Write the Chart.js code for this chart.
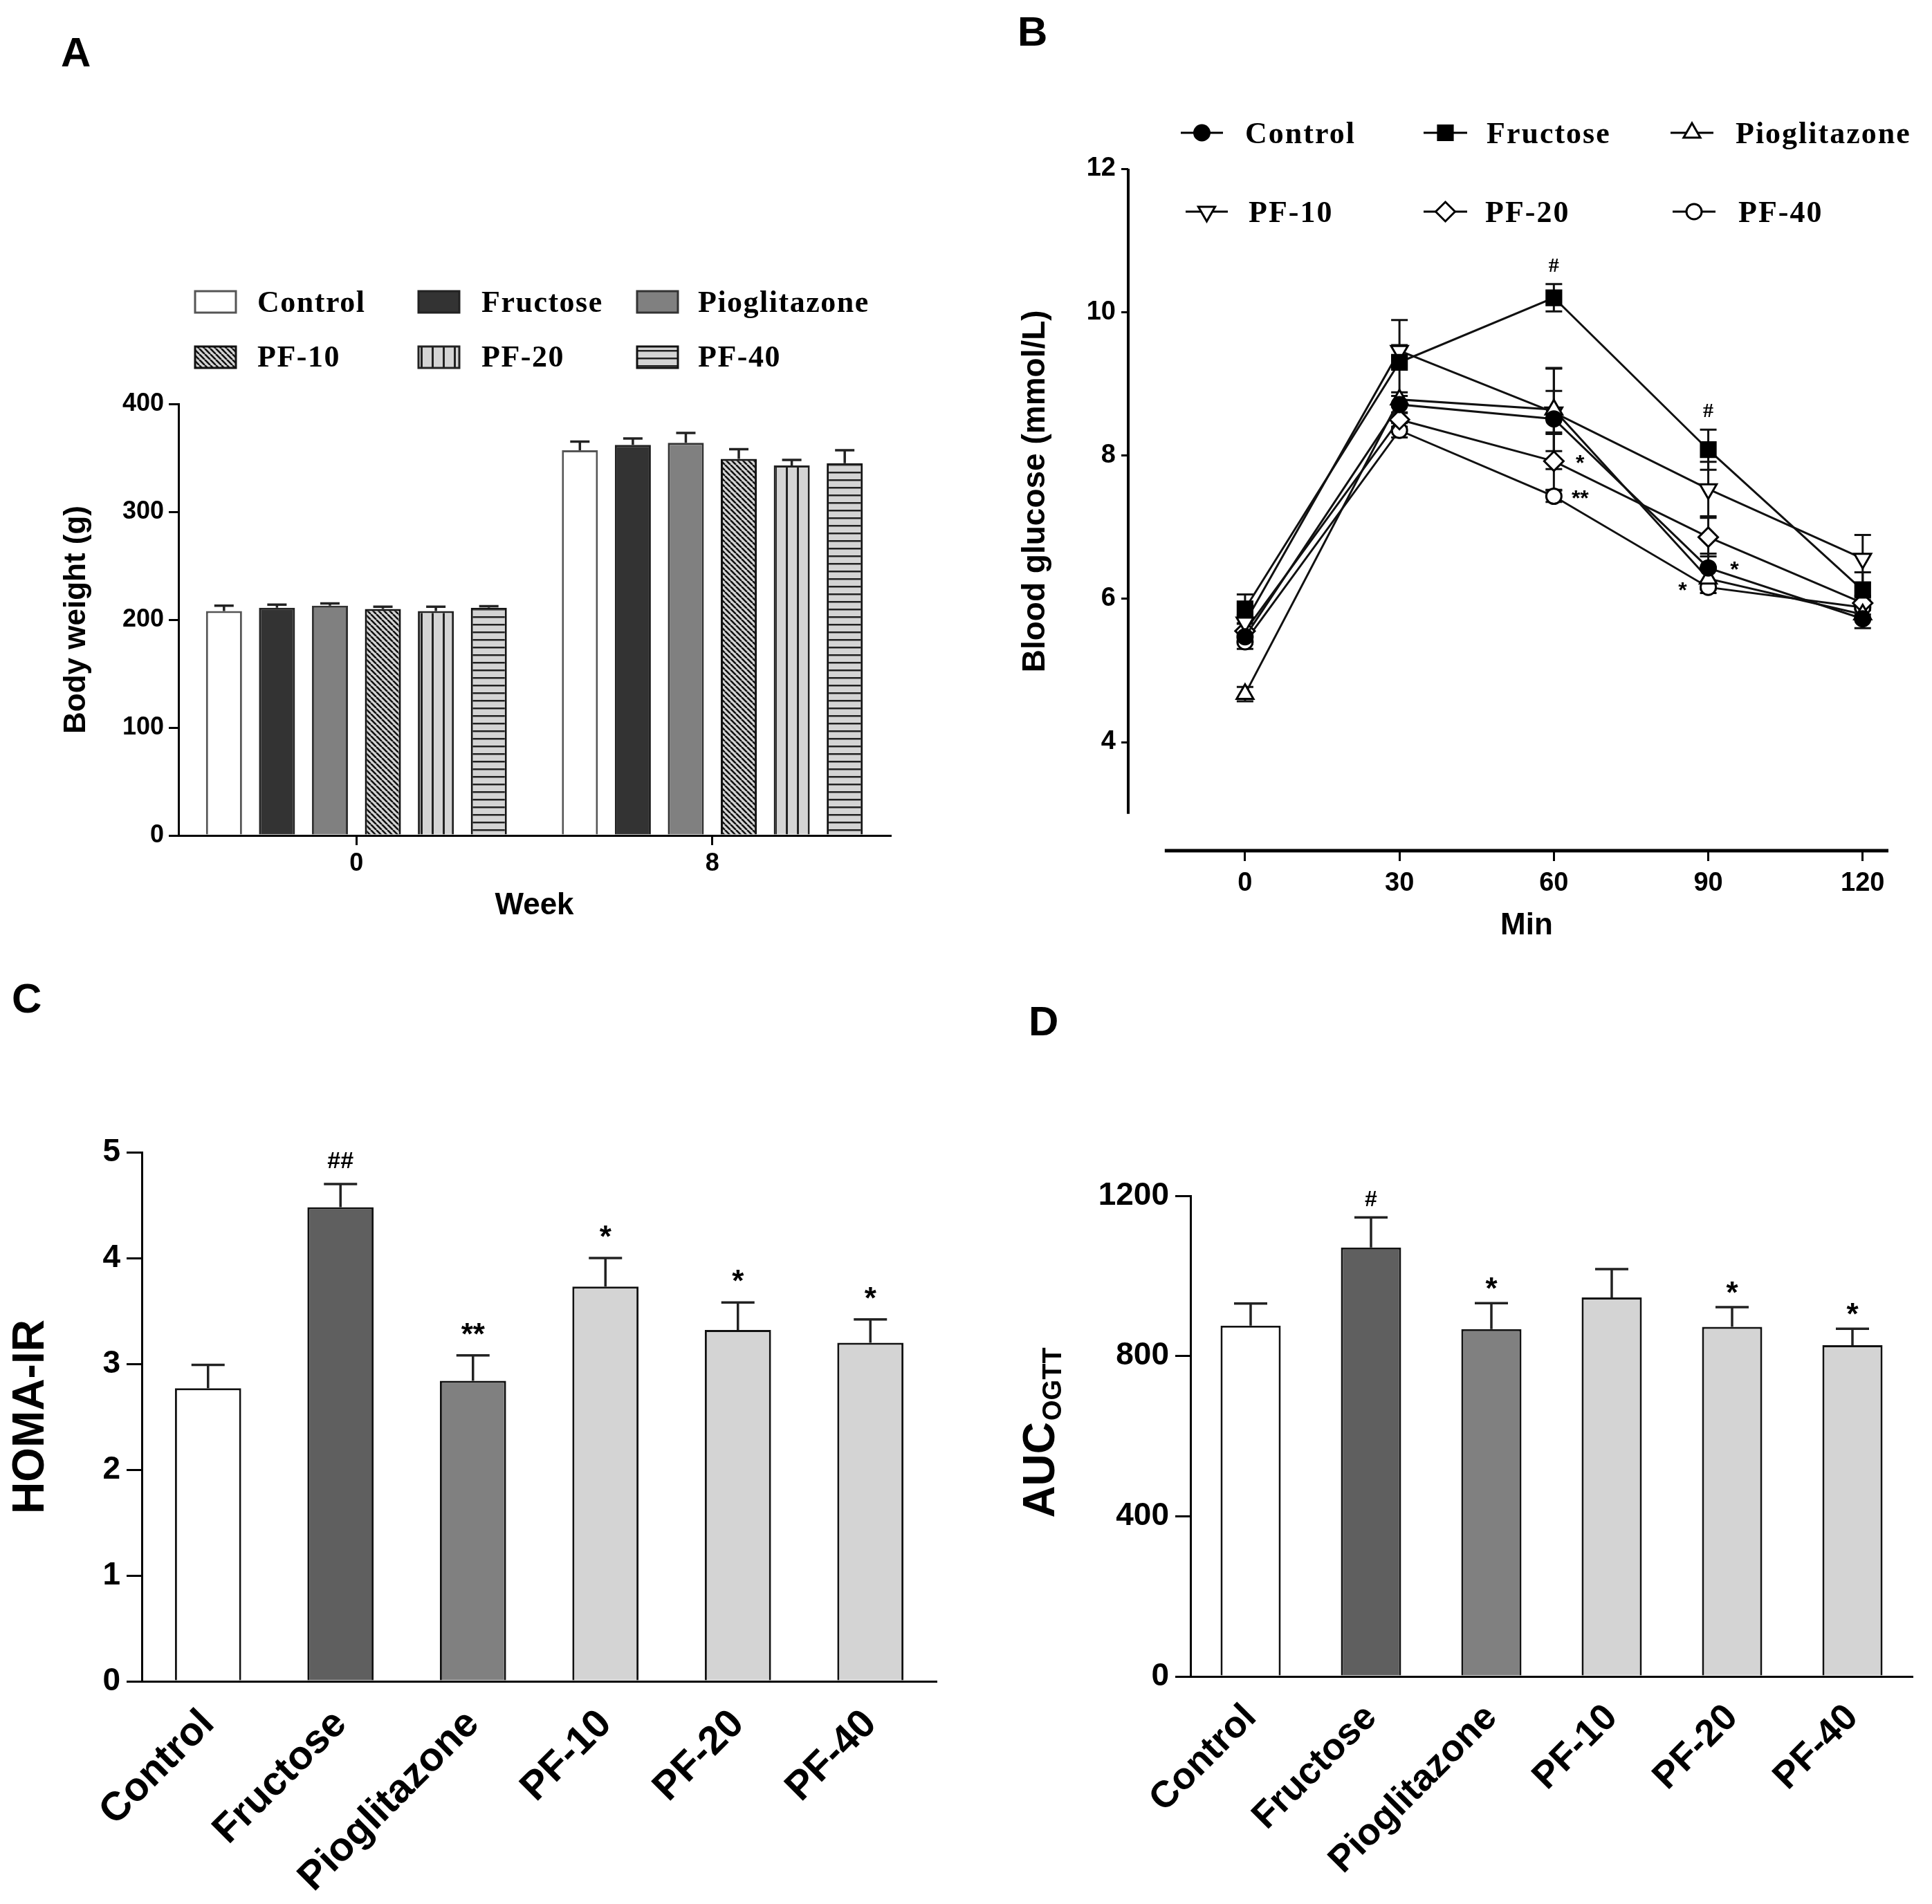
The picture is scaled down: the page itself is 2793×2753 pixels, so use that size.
<!DOCTYPE html>
<html><head><meta charset="utf-8">
<script src="https://cdn.jsdelivr.net/npm/chart.js@4.4.0/dist/chart.umd.min.js"></script>
<style>
html,body{margin:0;padding:0;background:#fff;}
#page{position:relative;width:2793px;height:2753px;background:#fff;overflow:hidden;}
canvas{position:absolute;}
.lbl{position:absolute;font:bold 60px "Liberation Sans",Arial,sans-serif;line-height:60px;color:#000;}
</style></head><body>
<div id="page">
<canvas id="cA" width="1400" height="1400" style="left:0px;top:0px"></canvas>
<canvas id="cB" width="1393" height="1400" style="left:1400px;top:0px"></canvas>
<canvas id="cC" width="1400" height="1353" style="left:0px;top:1400px"></canvas>
<canvas id="cD" width="1393" height="1353" style="left:1400px;top:1400px"></canvas>
<div class="lbl" style="left:88px;top:46px">A</div>
<div class="lbl" style="left:1471px;top:16px">B</div>
<div class="lbl" style="left:17px;top:1414px">C</div>
<div class="lbl" style="left:1487px;top:1447px">D</div>
</div>
<script>
// ---------------- DATA ----------------
const groupNames = ['Control','Fructose','Pioglitazone','PF-10','PF-20','PF-40'];

// Panel A: body weight (g), weeks 0 and 8
const weekLabels = ['0','8'];
const bwControl      = [208, 357];
const bwFructose     = [211, 362];
const bwPioglitazone = [213, 364];
const bwPF10         = [210, 349];
const bwPF20         = [208, 343];
const bwPF40         = [211, 345];
const bwErrControl      = [5, 8];
const bwErrFructose     = [3, 6];
const bwErrPioglitazone = [2, 9];
const bwErrPF10         = [2, 9];
const bwErrPF20         = [4, 5];
const bwErrPF40         = [1.5, 12];
const bwTicks = [0, 100, 200, 300, 400];

// Panel B: OGTT blood glucose (mmol/L)
const ogttMinutes = [0, 30, 60, 90, 120];
const bgControl      = [5.47, 8.71, 8.51, 6.43, 5.72];
const bgFructose     = [5.86, 9.30, 10.20, 8.08, 6.12];
const bgPioglitazone = [4.67, 8.78, 8.64, 6.28, 5.78];
const bgPF10         = [5.67, 9.46, 8.60, 7.53, 6.56];
const bgPF20         = [5.55, 8.50, 7.92, 6.86, 5.94];
const bgPF40         = [5.40, 8.35, 7.43, 6.16, 5.88];
const bgErrControl      = [0.10, 0.12, 0.70, 0.20, 0.13];
const bgErrFructose     = [0.20, 0.59, 0.19, 0.28, 0.25];
const bgErrPioglitazone = [0.10, 0.10, 0.58, 0.15, 0.08];
const bgErrPF10         = [0.10, 0.08, 0.30, 0.38, 0.33];
const bgErrPF20         = [0.10, 0.10, 0.40, 0.27, 0.10];
const bgErrPF40         = [0.10, 0.10, 0.08, 0.08, 0.10];
const bgYTicks = [4, 6, 8, 10, 12];
const bgXTicks = [0, 30, 60, 90, 120];
// significance marks: [series index, time index, text, side]
const bgMarks = [
  [1, 2, '#', 'above'],
  [1, 3, '#', 'above'],
  [4, 2, '*', 'right'],
  [5, 2, '**', 'right'],
  [0, 3, '*', 'right'],
  [5, 3, '*', 'left']
];

// Panel C: HOMA-IR
const homaValues = [2.77, 4.48, 2.84, 3.73, 3.32, 3.20];
const homaErrors = [0.22, 0.22, 0.24, 0.27, 0.26, 0.22];
const homaMarks  = ['', '##', '**', '*', '*', '*'];
const homaTicks  = [0, 1, 2, 3, 4, 5];

// Panel D: AUC OGTT
const aucValues = [876, 1071, 867, 946, 873, 827];
const aucErrors = [55, 75, 65, 71, 49, 41];
const aucMarks  = ['', '#', '*', '', '*', '*'];
const aucTicks  = [0, 400, 800, 1200];

// ---------------- STYLE / HELPERS ----------------
const SANS = '"Liberation Sans", Arial, sans-serif';
const SERIF = '"Liberation Serif", "Times New Roman", serif';
Chart.defaults.font.family = SANS;
Chart.defaults.font.weight = 'bold';
Chart.defaults.color = '#000';
Chart.defaults.animation = false;

function makePattern(kind) {
  const c = document.createElement('canvas');
  let g;
  if (kind === 'diag') {
    const T = 8; c.width = T; c.height = T; g = c.getContext('2d');
    g.fillStyle = '#d4d4d4'; g.fillRect(0, 0, T, T);
    g.strokeStyle = '#111'; g.lineWidth = 2.6; g.beginPath();
    [-T, 0, T].forEach(k => { g.moveTo(k, 0); g.lineTo(k + T, T); });
    g.stroke();
  } else if (kind === 'vert') {
    c.width = 16; c.height = 4; g = c.getContext('2d');
    g.fillStyle = '#d4d4d4'; g.fillRect(0, 0, 16, 4);
    g.fillStyle = '#222'; g.fillRect(0, 0, 3, 4);
  } else {
    c.width = 4; c.height = 11; g = c.getContext('2d');
    g.fillStyle = '#d4d4d4'; g.fillRect(0, 0, 4, 11);
    g.fillStyle = '#222'; g.fillRect(0, 0, 4, 2.5);
  }
  return g.createPattern(c, 'repeat');
}

function fixedTicks(arr) { return s => { s.ticks = arr.map(v => ({ value: v })); }; }
function fixW(w) { return s => { s.width = w; }; }
function fixH(h) { return s => { s.height = h; }; }
function val(d) { return (d !== null && typeof d === 'object') ? d.y : d; }
const plainNum = v => String(v);

// error bars drawn through the y scale
const errorBarPlugin = {
  id: 'errorBars',
  beforeDatasetsDraw(chart, a, o) { if (o.before) drawErr(chart, o); },
  afterDatasetsDraw(chart, a, o) { if (!o.before) drawErr(chart, o); }
};
function drawErr(chart, o) {
  const ctx = chart.ctx, ys = chart.scales.y;
  ctx.save();
  ctx.strokeStyle = o.color || '#111';
  ctx.lineWidth = o.width || 3;
  chart.data.datasets.forEach((ds, di) => {
    if (!ds.errors) return;
    chart.getDatasetMeta(di).data.forEach((el, i) => {
      const v = val(ds.data[i]), e = ds.errors[i];
      const x = el.x;
      const top = ys.getPixelForValue(v + e);
      const base = o.both ? ys.getPixelForValue(v - e) : ys.getPixelForValue(v);
      const h = o.cap / 2;
      ctx.beginPath();
      ctx.moveTo(x, base); ctx.lineTo(x, top);
      ctx.moveTo(x - h, top); ctx.lineTo(x + h, top);
      if (o.both) { ctx.moveTo(x - h, base); ctx.lineTo(x + h, base); }
      ctx.stroke();
    });
  });
  ctx.restore();
}

// significance marks above bars
const barMarksPlugin = {
  id: 'barMarks',
  afterDatasetsDraw(chart, a, o) {
    const ctx = chart.ctx, ys = chart.scales.y;
    ctx.save(); ctx.fillStyle = '#000'; ctx.textAlign = 'center'; ctx.textBaseline = 'alphabetic';
    chart.data.datasets.forEach((ds, di) => {
      if (!ds.marks) return;
      chart.getDatasetMeta(di).data.forEach((el, i) => {
        const m = ds.marks[i]; if (!m) return;
        const capY = ys.getPixelForValue(val(ds.data[i]) + ds.errors[i]);
        const isHash = m.indexOf('#') >= 0;
        ctx.font = isHash ? o.hashFont : o.starFont;
        ctx.fillText(m, el.x, capY - (isHash ? o.hashGap : o.starGap));
      });
    });
    ctx.restore();
  }
};

// ---------------- PANEL A ----------------
const patDiag = makePattern('diag'), patVert = makePattern('vert'), patHorz = makePattern('horz');
const aFills = ['#ffffff', '#333333', '#808080', patDiag, patVert, patHorz];
const aBorders = ['#555', '#222', '#333', '#111', '#222', '#111'];
const aSeries = [bwControl, bwFructose, bwPioglitazone, bwPF10, bwPF20, bwPF40];
const aErrs = [bwErrControl, bwErrFructose, bwErrPioglitazone, bwErrPF10, bwErrPF20, bwErrPF40];

const legendAPlugin = {
  id: 'legendA',
  afterDraw(chart) {
    const ctx = chart.ctx;
    const cols = [[282, 372], [605, 696], [921, 1009]];
    const rows = [[421, 451], [501, 530]];
    ctx.save();
    chart.data.datasets.forEach((ds, i) => {
      const c = cols[i % 3], r = rows[Math.floor(i / 3)];
      ctx.fillStyle = ds.backgroundColor;
      ctx.fillRect(c[0], r[0], 59, 31);
      ctx.strokeStyle = ds.borderColor; ctx.lineWidth = 3;
      ctx.strokeRect(c[0], r[0], 59, 31);
      ctx.fillStyle = '#000';
      ctx.font = 'bold 44px ' + SERIF;
      ctx.textBaseline = 'alphabetic'; ctx.textAlign = 'left';
      if ('letterSpacing' in ctx) ctx.letterSpacing = '1.5px';
      ctx.fillText(ds.label, c[1], r[1]);
      if ('letterSpacing' in ctx) ctx.letterSpacing = '0px';
    });
    ctx.restore();
  }
};

new Chart(document.getElementById('cA'), {
  type: 'bar',
  data: {
    labels: weekLabels,
    datasets: groupNames.map((n, i) => ({
      label: n, data: aSeries[i], errors: aErrs[i],
      backgroundColor: aFills[i], borderColor: aBorders[i], borderWidth: 3,
      categoryPercentage: 0.893, barPercentage: 0.68
    }))
  },
  options: {
    responsive: false, devicePixelRatio: 1,
    layout: { padding: { left: 0, top: 584, right: 113, bottom: 0 } },
    plugins: {
      legend: { display: false }, tooltip: { enabled: false },
      errorBars: { cap: 28, width: 3.5, color: '#222' }
    },
    scales: {
      x: {
        afterFit: fixH(192),
        grid: { display: true, drawOnChartArea: false, offset: false, tickLength: 14, lineWidth: 3, color: '#000' },
        border: { display: true, color: '#000', width: 3 },
        ticks: { font: { size: 36, weight: 'bold' }, padding: 5, color: '#000' },
        title: { display: true, text: 'Week', font: { size: 44, weight: 'bold' }, padding: { bottom: 64, top: 0 }, color: '#000' }
      },
      y: {
        min: 0, max: 400, afterBuildTicks: fixedTicks(bwTicks), afterFit: fixW(258),
        grid: { display: true, drawOnChartArea: false, tickLength: 14, lineWidth: 3, color: '#000' },
        border: { display: true, color: '#000', width: 3 },
        ticks: { font: { size: 36, weight: 'bold' }, padding: 7, color: '#000', callback: plainNum },
        title: { display: true, text: 'Body weight (g)', font: { size: 44, weight: 'bold' }, padding: { top: 84, bottom: 0 }, color: '#000' }
      }
    }
  },
  plugins: [errorBarPlugin, legendAPlugin]
});

// ---------------- PANEL B ----------------
const bSeries = [bgControl, bgFructose, bgPioglitazone, bgPF10, bgPF20, bgPF40];
const bErrs = [bgErrControl, bgErrFructose, bgErrPioglitazone, bgErrPF10, bgErrPF20, bgErrPF40];
const bStyles = [
  { pointStyle: 'circle', r: 11, fill: '#000', rot: 0 },
  { pointStyle: 'rect', r: 15, fill: '#000', rot: 0 },
  { pointStyle: 'triangle', r: 14, fill: '#fff', rot: 0 },
  { pointStyle: 'triangle', r: 14, fill: '#fff', rot: 180 },
  { pointStyle: 'rectRot', r: 14, fill: '#fff', rot: 0 },
  { pointStyle: 'circle', r: 11, fill: '#fff', rot: 0 }
];

function drawMarker(ctx, st, x, y) {
  const r = st.r;
  ctx.beginPath();
  if (st.pointStyle === 'circle') { ctx.arc(x, y, r, 0, Math.PI * 2); }
  else if (st.pointStyle === 'rect') { const s = r * Math.SQRT1_2; ctx.rect(x - s, y - s, 2 * s, 2 * s); }
  else if (st.pointStyle === 'rectRot') { ctx.moveTo(x, y - r); ctx.lineTo(x + r, y); ctx.lineTo(x, y + r); ctx.lineTo(x - r, y); ctx.closePath(); }
  else if (st.pointStyle === 'triangle') {
    let rad = st.rot * Math.PI / 180;
    ctx.moveTo(x + Math.sin(rad) * r, y - Math.cos(rad) * r);
    rad += 2 * Math.PI / 3; ctx.lineTo(x + Math.sin(rad) * r, y - Math.cos(rad) * r);
    rad += 2 * Math.PI / 3; ctx.lineTo(x + Math.sin(rad) * r, y - Math.cos(rad) * r);
    ctx.closePath();
  }
  ctx.fillStyle = st.fill; ctx.fill();
  ctx.lineWidth = 3; ctx.strokeStyle = '#000'; ctx.stroke();
}

const legendBPlugin = {
  id: 'legendB',
  afterDraw(chart) {
    const ctx = chart.ctx;
    // [lineStart, lineEnd, textX, centerY] in canvas coords
    const pos = [
      [307, 368, 400, 192], [658, 721, 749, 192], [1015, 1077, 1109, 192],
      [314, 375, 405, 306], [658, 721, 747, 306], [1018, 1080, 1113, 306]
    ];
    ctx.save();
    chart.data.datasets.forEach((ds, i) => {
      const p = pos[i];
      ctx.strokeStyle = '#000'; ctx.lineWidth = 3;
      ctx.beginPath(); ctx.moveTo(p[0], p[3]); ctx.lineTo(p[1], p[3]); ctx.stroke();
      drawMarker(ctx, bStyles[i], (p[0] + p[1]) / 2, p[3]);
      ctx.fillStyle = '#000'; ctx.font = 'bold 44px ' + SERIF;
      ctx.textAlign = 'left'; ctx.textBaseline = 'alphabetic';
      if ('letterSpacing' in ctx) ctx.letterSpacing = '2px';
      ctx.fillText(ds.label, p[2], p[3] + 15);
      if ('letterSpacing' in ctx) ctx.letterSpacing = '0px';
    });
    ctx.restore();
  }
};

// GraphPad-style offset axes: lines and titles centred on the drawn axis lines
const offsetAxesPlugin = {
  id: 'offsetAxes',
  afterDraw(chart, a, o) {
    const { ctx, chartArea: ca } = chart, xs = chart.scales.x, ys = chart.scales.y;
    const yTop = ys.getPixelForValue(o.yFrom), yBot = ys.getPixelForValue(o.yTo);
    const xL = xs.getPixelForValue(o.xFrom), xR = xs.getPixelForValue(o.xTo);
    ctx.save(); ctx.strokeStyle = '#000';
    ctx.lineWidth = o.yWidth; ctx.beginPath();
    ctx.moveTo(ca.left, yTop); ctx.lineTo(ca.left, yBot); ctx.stroke();
    ctx.lineWidth = o.xWidth; ctx.beginPath();
    ctx.moveTo(xL, ca.bottom); ctx.lineTo(xR, ca.bottom); ctx.stroke();
    ctx.fillStyle = '#000'; ctx.font = 'bold 44px ' + SANS;
    ctx.textAlign = 'center'; ctx.textBaseline = 'middle';
    ctx.fillText(o.xTitle, (xL + xR) / 2, ca.bottom + o.xTitleOffset);
    ctx.translate(ca.left - o.yTitleOffset, (yTop + yBot) / 2);
    ctx.rotate(-Math.PI / 2);
    ctx.font = 'bold 46px ' + SANS;
    ctx.fillText(o.yTitle, 0, 0);
    ctx.restore();
  }
};

const lineMarksPlugin = {
  id: 'lineMarks',
  afterDatasetsDraw(chart) {
    const ctx = chart.ctx, ys = chart.scales.y;
    ctx.save(); ctx.fillStyle = '#000'; ctx.textAlign = 'center'; ctx.textBaseline = 'alphabetic';
    bgMarks.forEach(m => {
      const ds = chart.data.datasets[m[0]];
      const el = chart.getDatasetMeta(m[0]).data[m[1]];
      const isHash = m[2].indexOf('#') >= 0;
      ctx.font = isHash ? 'bold 30px ' + SERIF : 'bold 32px ' + SANS;
      let x = el.x, y = el.y + 22;
      if (m[3] === 'above') { y = ys.getPixelForValue(val(ds.data[m[1]]) + ds.errors[m[1]]) - 18; }
      else if (m[3] === 'right') { x = el.x + 38; y = el.y + 13; }
      else { x = el.x - 37; y = el.y + 15; }
      ctx.fillText(m[2], x, y);
    });
    ctx.restore();
  }
};

new Chart(document.getElementById('cB'), {
  type: 'line',
  data: {
    datasets: groupNames.map((n, i) => ({
      label: n,
      data: ogttMinutes.map((t, k) => ({ x: t, y: bSeries[i][k] })),
      errors: bErrs[i],
      borderColor: '#111', borderWidth: 3, tension: 0, fill: false, clip: false,
      pointStyle: bStyles[i].pointStyle, pointRadius: bStyles[i].r, pointRotation: bStyles[i].rot,
      pointBackgroundColor: bStyles[i].fill, pointBorderColor: '#000', pointBorderWidth: 3
    }))
  },
  options: {
    responsive: false, devicePixelRatio: 1,
    layout: { padding: { left: 0, top: 244, right: 63, bottom: 0 } },
    plugins: {
      legend: { display: false }, tooltip: { enabled: false },
      errorBars: { before: true, both: true, cap: 24, width: 3, color: '#111' },
      offsetAxes: { yFrom: 12, yTo: 3, yWidth: 4, xFrom: -15.6, xTo: 125, xWidth: 5,
                    xTitle: 'Min', xTitleOffset: 109, yTitle: 'Blood glucose (mmol/L)', yTitleOffset: 134 }
    },
    scales: {
      x: {
        type: 'linear', min: -22.7, max: 125,
        afterBuildTicks: fixedTicks(bgXTicks), afterFit: fixH(170),
        grid: { display: true, drawOnChartArea: false, tickLength: 15, lineWidth: 3, color: '#000' },
        border: { display: false },
        ticks: { font: { size: 38, weight: 'bold' }, padding: 10, color: '#000', callback: plainNum },
        title: { display: false }
      },
      y: {
        min: 2.485, max: 12,
        afterBuildTicks: fixedTicks(bgYTicks), afterFit: fixW(231),
        grid: { display: true, drawOnChartArea: false, tickLength: 10, lineWidth: 3, color: '#000' },
        border: { display: false },
        ticks: { font: { size: 38, weight: 'bold' }, padding: 8, color: '#000', callback: plainNum },
        title: { display: false }
      }
    }
  },
  plugins: [errorBarPlugin, offsetAxesPlugin, lineMarksPlugin, legendBPlugin]
});

// ---------------- PANELS C & D ----------------
const cdFills = ['#ffffff', '#5f5f5f', '#808080', '#d4d4d4', '#d4d4d4', '#d4d4d4'];

new Chart(document.getElementById('cC'), {
  type: 'bar',
  data: {
    labels: groupNames,
    datasets: [{
      label: 'HOMA-IR', data: homaValues, errors: homaErrors, marks: homaMarks,
      backgroundColor: cdFills, borderColor: '#111', borderWidth: 3,
      categoryPercentage: 1, barPercentage: 0.5
    }]
  },
  options: {
    responsive: false, devicePixelRatio: 1,
    layout: { padding: { left: 0, top: 266, right: 46, bottom: 0 } },
    plugins: {
      legend: { display: false }, tooltip: { enabled: false },
      errorBars: { cap: 48, width: 3.5, color: '#222' },
      barMarks: { starFont: 'bold 44px ' + SANS, hashFont: 'bold 34px ' + SANS, starGap: 16, hashGap: 23 }
    },
    scales: {
      x: {
        afterFit: fixH(322),
        grid: { display: false },
        border: { display: true, color: '#000', width: 3 },
        ticks: { font: { size: 58, weight: 'bold' }, padding: 20, minRotation: 45, maxRotation: 45, autoSkip: false, color: '#000' }
      },
      y: {
        min: 0, max: 5, afterBuildTicks: fixedTicks(homaTicks), afterFit: fixW(205),
        grid: { display: true, drawOnChartArea: false, tickLength: 22, lineWidth: 3, color: '#000' },
        border: { display: true, color: '#000', width: 3 },
        ticks: { font: { size: 46, weight: 'bold' }, padding: 9, color: '#000', callback: plainNum },
        title: { display: true, text: 'HOMA-IR', font: { size: 64, weight: 'bold' }, padding: { top: 7, bottom: 0 }, color: '#000' }
      }
    }
  },
  plugins: [errorBarPlugin, barMarksPlugin]
});

const aucTitlePlugin = {
  id: 'aucTitle',
  afterDraw(chart) {
    const ctx = chart.ctx, ca = chart.chartArea;
    const cx = 106, cy = (ca.top + ca.bottom) / 2;
    ctx.save();
    ctx.translate(cx, cy); ctx.rotate(-Math.PI / 2);
    ctx.fillStyle = '#000'; ctx.textBaseline = 'middle'; ctx.textAlign = 'left';
    const big = 'bold 64px ' + SANS, small = 'bold 38px ' + SANS;
    ctx.font = big; const w1 = ctx.measureText('AUC').width;
    ctx.font = small; const w2 = ctx.measureText('OGTT').width;
    const x0 = -(w1 + w2) / 2 + 4;
    ctx.font = big; ctx.fillText('AUC', x0, 0);
    ctx.font = small; ctx.fillText('OGTT', x0 + w1 + 2, 18);
    ctx.restore();
  }
};

new Chart(document.getElementById('cD'), {
  type: 'bar',
  data: {
    labels: groupNames,
    datasets: [{
      label: 'AUC OGTT', data: aucValues, errors: aucErrors, marks: aucMarks,
      backgroundColor: cdFills, borderColor: '#111', borderWidth: 3,
      categoryPercentage: 1, barPercentage: 0.5
    }]
  },
  options: {
    responsive: false, devicePixelRatio: 1,
    layout: { padding: { left: 0, top: 329, right: 28, bottom: 0 } },
    plugins: {
      legend: { display: false }, tooltip: { enabled: false },
      errorBars: { cap: 48, width: 3.5, color: '#222' },
      barMarks: { starFont: 'bold 44px ' + SANS, hashFont: 'bold 32px ' + SANS, starGap: 6, hashGap: 16 }
    },
    scales: {
      x: {
        afterFit: fixH(329),
        grid: { display: false },
        border: { display: true, color: '#000', width: 3 },
        ticks: { font: { size: 54, weight: 'bold' }, padding: 20, minRotation: 45, maxRotation: 45, autoSkip: false, color: '#000' }
      },
      y: {
        min: 0, max: 1200, afterBuildTicks: fixedTicks(aucTicks), afterFit: fixW(321),
        grid: { display: true, drawOnChartArea: false, tickLength: 22, lineWidth: 3, color: '#000' },
        border: { display: true, color: '#000', width: 3 },
        ticks: { font: { size: 46, weight: 'bold' }, padding: 9, color: '#000', callback: plainNum },
        title: { display: false }
      }
    }
  },
  plugins: [errorBarPlugin, barMarksPlugin, aucTitlePlugin]
});
</script>
</body></html>
